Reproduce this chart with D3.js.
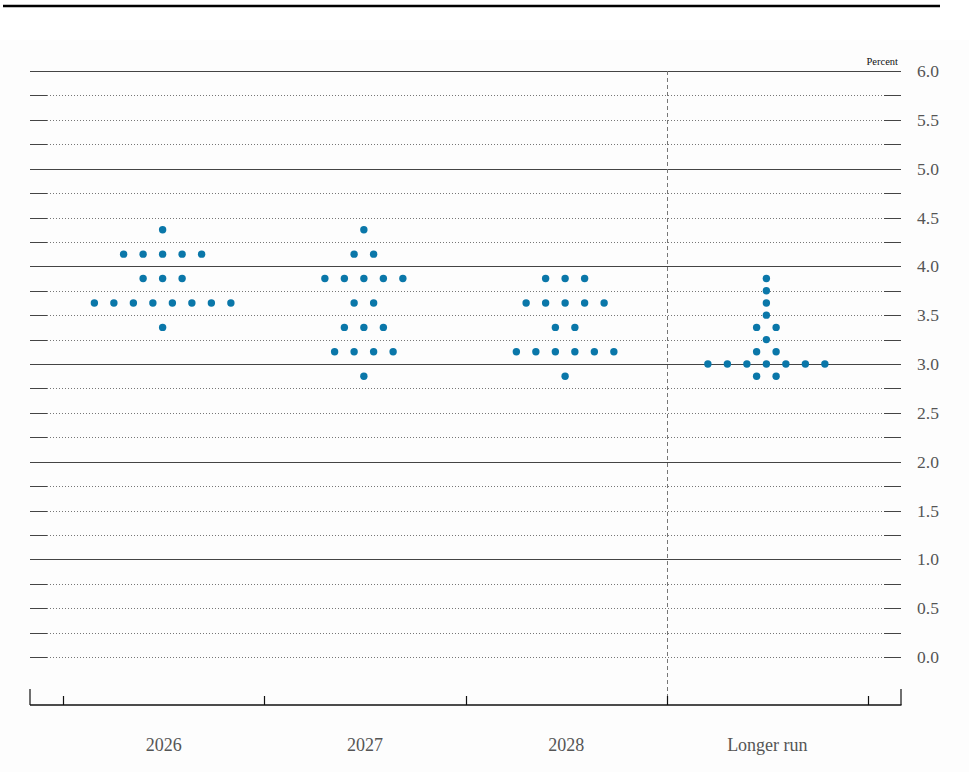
<!DOCTYPE html>
<html>
<head>
<meta charset="utf-8">
<script src="https://cdn.jsdelivr.net/npm/d3@7"></script>
<style>
  body { margin: 0; background: #ffffff; }
  svg { display: block; }
</style>
</head>
<body>
<div id="graph"></div>
<script>
// Chart data
var categories = ["2026", "2027", "2028", "Longer run"];

// each row: [midpoint rate, number of participants]
var dots_2026 = [[4.375, 1], [4.125, 5], [3.875, 3], [3.625, 8], [3.375, 1]];
var dots_2027 = [[4.375, 1], [4.125, 2], [3.875, 5], [3.625, 2], [3.375, 3], [3.125, 4], [2.875, 1]];
var dots_2028 = [[3.875, 3], [3.625, 5], [3.375, 2], [3.125, 6], [2.875, 1]];
var dots_longer = [[3.875, 1], [3.75, 1], [3.625, 1], [3.5, 1], [3.375, 2], [3.25, 1], [3.125, 2], [3.0, 7], [2.875, 2]];

var y_tick_labels = ["0.0", "0.5", "1.0", "1.5", "2.0", "2.5", "3.0", "3.5", "4.0", "4.5", "5.0", "5.5", "6.0"];
var grid_values = d3.range(0, 6.001, 0.25);

var width = 969;
var height = 772;

var xscale = d3.scaleBand()
               .domain(categories)
               .range([63, 868])
               .paddingInner(0)
               .paddingOuter(0);

var yscale = d3.scaleLinear()
               .domain([0, 6])
               .range([657, 71]);

var dot_step = 19.5;   // horizontal gap between dots on one row

var chart = d3.select("#graph")
              .append("svg")
                .attr("width", width)
                .attr("height", height);

// panel background + rule at the top
chart.append("rect")
     .attr("x", 0).attr("y", 40)
     .attr("width", width).attr("height", height - 40)
     .attr("fill", "#fdfdfd");

chart.append("line")
     .attr("x1", 3).attr("x2", 940)
     .attr("y1", 6).attr("y2", 6)
     .attr("stroke", "#000").attr("stroke-width", 2.5);

var left = 30, right = 901, tick_len = 17;

// Gridlines: solid on whole numbers, dotted between
var grid = chart.append("g");
grid_values.forEach(function (v) {
  var y = Math.round(yscale(v)) + 0.5;
  var whole = Math.abs(v - Math.round(v)) < 1e-6 && v > 0;
  if (whole) {
    grid.append("line")
        .attr("x1", left).attr("x2", right)
        .attr("y1", y).attr("y2", y)
        .attr("stroke", "#444").attr("stroke-width", 1.1);
  } else {
    grid.append("line")
        .attr("x1", left + tick_len).attr("x2", right - tick_len)
        .attr("y1", y).attr("y2", y)
        .attr("stroke", "#777").attr("stroke-width", 1)
        .attr("stroke-dasharray", "1,2");
    grid.append("line")
        .attr("x1", left).attr("x2", left + tick_len)
        .attr("y1", y).attr("y2", y)
        .attr("stroke", "#444").attr("stroke-width", 1);
    grid.append("line")
        .attr("x1", right - tick_len).attr("x2", right)
        .attr("y1", y).attr("y2", y)
        .attr("stroke", "#444").attr("stroke-width", 1);
  }
});

// Right-hand y axis labels
var y_axis = d3.axisRight()
               .scale(yscale)
               .tickValues(y_tick_labels.map(Number))
               .tickFormat(d3.format(".1f"))
               .tickSize(0)
               .tickPadding(16);

var yAxisElements = chart.append("g")
                         .attr("transform", "translate(" + right + ",0)")
                         .call(y_axis);
yAxisElements.select(".domain").remove();
yAxisElements.selectAll("text")
             .attr("font-family", "'Liberation Serif', serif")
             .attr("font-size", 17.5)
             .attr("fill", "#555");

chart.append("text")
     .attr("x", 898).attr("y", 65)
     .attr("text-anchor", "end")
     .attr("font-family", "'Liberation Serif', serif")
     .attr("font-size", 10.5)
     .attr("fill", "#111")
     .text("Percent");

// Dashed separator before "Longer run"
var sep_x = Math.round(xscale("Longer run")) + 0.5;
chart.append("line")
     .attr("x1", sep_x).attr("x2", sep_x)
     .attr("y1", yscale(6)).attr("y2", 705)
     .attr("stroke", "#777").attr("stroke-width", 1)
     .attr("stroke-dasharray", "4,3");

// Bottom axis
var axis_y = 705;
var baseline = chart.append("g");
baseline.append("line")
        .attr("x1", left).attr("x2", right + 0.5)
        .attr("y1", axis_y).attr("y2", axis_y)
        .attr("stroke", "#111").attr("stroke-width", 1.5);
[left, right].forEach(function (x) {
  baseline.append("line")
          .attr("x1", x).attr("x2", x)
          .attr("y1", axis_y).attr("y2", axis_y - 16)
          .attr("stroke", "#111").attr("stroke-width", 1.2);
});
var boundaries = categories.map(function (c) { return xscale(c); }).concat([xscale.range()[1]]);
boundaries.forEach(function (x) {
  x = Math.round(x) + 0.5;
  baseline.append("line")
          .attr("x1", x).attr("x2", x)
          .attr("y1", axis_y).attr("y2", axis_y - 9)
          .attr("stroke", "#111").attr("stroke-width", 1.2);
});

// Category labels
chart.selectAll("text.cat")
     .data(categories)
     .enter()
     .append("text")
       .attr("class", "cat")
       .attr("x", function (d) { return xscale(d) + xscale.bandwidth() / 2; })
       .attr("y", 751)
       .attr("text-anchor", "middle")
       .attr("font-family", "'Liberation Serif', serif")
       .attr("font-size", 18)
       .attr("fill", "#555")
       .text(function (d) { return d; });

// Dots
var dot_sets = [dots_2026, dots_2027, dots_2028, dots_longer];
var points = [];
dot_sets.forEach(function (rows, i) {
  var cx = xscale(categories[i]) + xscale.bandwidth() / 2 - 1;
  rows.forEach(function (row) {
    var n = row[1];
    for (var k = 0; k < n; k++) {
      points.push({ x: cx + (k - (n - 1) / 2) * dot_step, v: row[0] });
    }
  });
});

chart.selectAll("circle.dot")
     .data(points)
     .enter()
     .append("circle")
       .attr("class", "dot")
       .attr("cx", function (d) { return d.x; })
       .attr("cy", function (d) { return yscale(d.v); })
       .attr("r", 3.7)
       .attr("fill", "#0a77a9");
</script>
</body>
</html>
